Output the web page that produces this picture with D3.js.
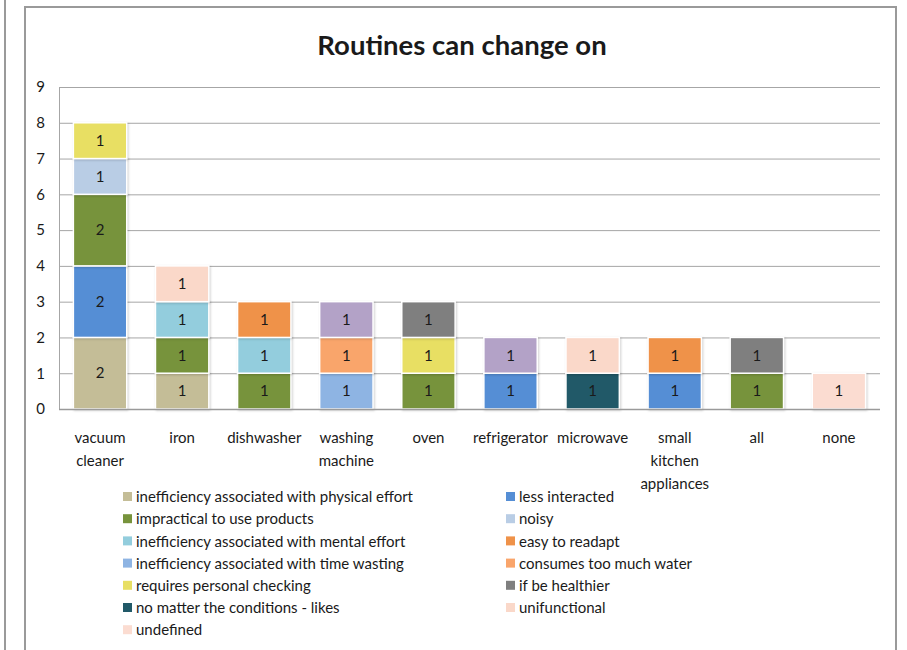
<!DOCTYPE html>
<html>
<head>
<meta charset="utf-8">
<script src="https://cdn.jsdelivr.net/npm/d3@7"></script>
<style>
  html, body { margin: 0; padding: 0; background: #fff; }
  svg { display: block; }
  text { font-family: Lato, "Open Sans", sans-serif; fill: #1a1a1a; }
</style>
</head>
<body>
<svg id="chart" width="907" height="650"></svg>
<script>
// Appliances on the x axis (label lines for wrapping)
const categories = ["vacuum cleaner", "iron", "dishwasher", "washing machine", "oven",
  "refrigerator", "microwave", "small kitchen appliances", "all", "none"];
const categoryLines = [["vacuum", "cleaner"], ["iron"], ["dishwasher"], ["washing", "machine"], ["oven"],
  ["refrigerator"], ["microwave"], ["small", "kitchen", "appliances"], ["all"], ["none"]];

// Reasons, in stacking order
const seriesNames = [
  "inefficiency associated with physical effort",
  "less interacted",
  "impractical to use products",
  "noisy",
  "inefficiency associated with mental effort",
  "easy to readapt",
  "inefficiency associated with time wasting",
  "consumes too much water",
  "requires personal checking",
  "if be healthier",
  "no matter the conditions - likes",
  "unifunctional",
  "undefined",
  "other"
];
const seriesColors = ["#C4BD97", "#558ED5", "#77933C", "#B9CDE5", "#93CDDD", "#EF9249",
  "#8EB4E3", "#F9A56B", "#E8DF63", "#7F7F7F", "#215968", "#FAD8C9", "#FBDCD1", "#B3A2C7"];

// Counts per appliance, one array per reason
const physicalEffort   = [2, 1, 0, 0, 0, 0, 0, 0, 0, 0];
const lessInteracted   = [2, 0, 0, 0, 0, 1, 0, 1, 0, 0];
const impractical      = [2, 1, 1, 0, 1, 0, 0, 0, 1, 0];
const noisy            = [1, 0, 0, 0, 0, 0, 0, 0, 0, 0];
const mentalEffort     = [0, 1, 1, 0, 0, 0, 0, 0, 0, 0];
const easyToReadapt    = [0, 0, 1, 0, 0, 0, 0, 1, 0, 0];
const timeWasting      = [0, 0, 0, 1, 0, 0, 0, 0, 0, 0];
const tooMuchWater     = [0, 0, 0, 1, 0, 0, 0, 0, 0, 0];
const personalChecking = [1, 0, 0, 0, 1, 0, 0, 0, 0, 0];
const healthier        = [0, 0, 0, 0, 1, 0, 0, 0, 1, 0];
const noMatter         = [0, 0, 0, 0, 0, 0, 1, 0, 0, 0];
const unifunctional    = [0, 1, 0, 0, 0, 0, 1, 0, 0, 0];
const undefinedReason  = [0, 0, 0, 0, 0, 0, 0, 0, 0, 1];
const other            = [0, 0, 0, 1, 0, 1, 0, 0, 0, 0];

const seriesValues = [physicalEffort, lessInteracted, impractical, noisy, mentalEffort, easyToReadapt,
  timeWasting, tooMuchWater, personalChecking, healthier, noMatter, unifunctional, undefinedReason, other];

// Legend entries (two columns, row-wise)
const legendNames = seriesNames.slice(0, 13);

const yTicks = [0, 1, 2, 3, 4, 5, 6, 7, 8, 9];

const svg = d3.select("#chart");

// outer frames
svg.append("line").attr("x1", 5).attr("x2", 5).attr("y1", 0).attr("y2", 650)
  .attr("stroke", "#9a9a9a").attr("stroke-width", 2);
svg.append("path").attr("d", "M25,650 V7 H896 V650")
  .attr("fill", "none").attr("stroke", "#9a9a9a").attr("stroke-width", 2);

// title
svg.append("text").attr("x", 462).attr("y", 55).attr("text-anchor", "middle")
  .attr("font-size", 27.5).attr("font-weight", "bold").text("Routines can change on");

const plotLeft = 59, plotRight = 880, plotTop = 87, plotBottom = 409;

const x = d3.scaleBand().domain(categories).range([plotLeft, plotRight])
  .paddingInner(0.35).paddingOuter(0.175);
const y = d3.scaleLinear().domain([0, 9]).range([plotBottom, plotTop]);

// gridlines
svg.append("g").selectAll("line").data(yTicks.slice(1)).join("line")
  .attr("x1", plotLeft).attr("x2", plotRight)
  .attr("y1", d => y(d) + 0.5).attr("y2", d => y(d) + 0.5)
  .attr("stroke", "#a6a6a6").attr("stroke-width", 1);

// y axis
const yAxis = svg.append("g").attr("transform", `translate(${plotLeft},0)`)
  .call(d3.axisLeft(y).tickValues(yTicks).tickSize(0).tickPadding(14));
yAxis.select(".domain").attr("stroke", "#a6a6a6");
yAxis.selectAll("text").attr("font-size", 15).attr("font-family", "Lato, sans-serif").attr("fill", "#1a1a1a");

// stacked bars
const table = categories.map((c, i) => {
  const row = { category: c };
  seriesNames.forEach((s, j) => { row[s] = seriesValues[j][i]; });
  return row;
});
const stacked = d3.stack().keys(seriesNames)(table);

const layers = svg.append("g").selectAll("g").data(stacked).join("g")
  .attr("fill", (d, i) => seriesColors[i]);

layers.selectAll("rect").data(d => d.filter(p => p[1] - p[0] > 0)).join("rect")
  .attr("x", p => x(p.data.category))
  .attr("y", p => y(p[1]))
  .attr("width", x.bandwidth())
  .attr("height", p => y(p[0]) - y(p[1]))
  .attr("stroke", "#ffffff").attr("stroke-width", 1.5)
  .style("filter", "drop-shadow(1px 1px 1px rgba(0,0,0,0.18))");

layers.selectAll("text").data(d => d.filter(p => p[1] - p[0] > 0)).join("text")
  .attr("x", p => x(p.data.category) + x.bandwidth() / 2)
  .attr("y", p => (y(p[0]) + y(p[1])) / 2)
  .attr("dy", "0.35em").attr("text-anchor", "middle")
  .attr("font-size", 15).attr("fill", "#1a1a1a")
  .text(p => p[1] - p[0]);

// x axis line
svg.append("line").attr("x1", plotLeft).attr("x2", plotRight)
  .attr("y1", plotBottom + 0.5).attr("y2", plotBottom + 0.5)
  .attr("stroke", "#9a9a9a").attr("stroke-width", 1.5);

// category labels
const xl = svg.append("g");
categories.forEach((c, i) => {
  const t = xl.append("text").attr("text-anchor", "middle").attr("font-size", 15)
    .attr("x", x(c) + x.bandwidth() / 2).attr("y", 443);
  categoryLines[i].forEach((line, k) => {
    t.append("tspan").attr("x", x(c) + x.bandwidth() / 2).attr("dy", k === 0 ? 0 : 23).text(line);
  });
});

// legend
const legend = svg.append("g");
legendNames.forEach((name, i) => {
  const col = i % 2, row = Math.floor(i / 2);
  const lx = col === 0 ? 123 : 506;
  const ly = 497 + row * 22.2;
  legend.append("rect").attr("x", lx).attr("y", ly - 5).attr("width", 9).attr("height", 9)
    .attr("fill", seriesColors[seriesNames.indexOf(name)]);
  legend.append("text").attr("x", lx + 13).attr("y", ly).attr("dy", "0.35em")
    .attr("font-size", 15).attr("fill", "#333").text(name);
});
</script>
</body>
</html>
